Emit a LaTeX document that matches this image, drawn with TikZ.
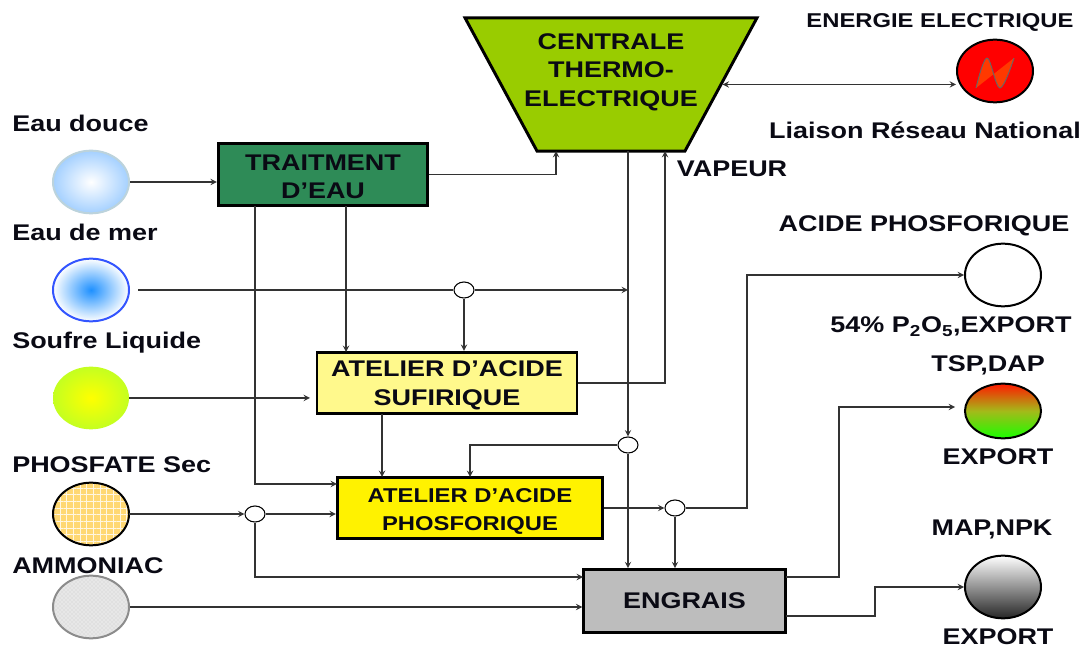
\documentclass[tikz,border=0pt]{standalone}
\usepackage{fontspec}
\setmainfont[FakeStretch=1.19]{Liberation Sans}
\usepackage{tikz}
\usetikzlibrary{shapes.geometric,patterns,patterns.meta}
\definecolor{trtgreen}{HTML}{2E8B57}
\definecolor{cntgreen}{HTML}{99CC00}
\definecolor{txtdark}{HTML}{0A0A14}
\definecolor{wirecol}{HTML}{333333}
\definecolor{douceblue}{HTML}{A4D0FF}
\definecolor{merblue}{HTML}{1E90FF}
\definecolor{merline}{HTML}{3355FF}
\definecolor{soufcol}{HTML}{C4FF20}
\definecolor{phoscol}{HTML}{FFD873}
\newcommand{\topgap}{\rule{0pt}{15pt}}

\begin{document}
\begin{tikzpicture}[x=0.75pt, y=-0.75pt, >=stealth,
    wire/.style={draw=wirecol, line width=1.1pt},
    lbl/.style={font=\bfseries\fontsize{17}{20}\selectfont, text=txtdark, inner sep=0pt,
        text height=12pt, text depth=3pt},
    unit/.style={draw=black, line width=2.2pt, inner sep=0pt, align=center, text=txtdark,
        font=\bfseries\fontsize{17}{21.5}\selectfont},
    ball/.style={ellipse, inner sep=0pt, minimum width=57pt, minimum height=47pt},
    tiny/.style={ellipse, draw=black, fill=white, line width=0.8pt, inner sep=0pt,
        minimum width=15pt, minimum height=12pt}]

    \useasboundingbox (0,0) rectangle (1083,648);

    % process units
    \node[unit, trapezium, shape border rotate=180, trapezium stretches body=true,
        trapezium left angle=61.6, trapezium right angle=61.6, fill=cntgreen,
        minimum width=219pt] (centrale) at (611,84.5) {\rule{0pt}{100pt}};
    \node[align=center, inner sep=0pt, text=txtdark,
        font=\bfseries\fontsize{17}{21.5}\selectfont] (centtxt) at (611,72)
        {CENTRALE\\THERMO-\\ELECTRIQUE};
    \node[unit, fill=trtgreen, minimum width=157pt, minimum height=47pt] (traitement) at (323,174.5)
        {\topgap TRAITMENT\\D'EAU};
    \node[unit, fill=yellow!45, minimum width=195pt, minimum height=46pt] (sulf) at (447,383)
        {\topgap ATELIER D'ACIDE\\SUFIRIQUE};
    \node[unit, fill=yellow, minimum width=199pt, minimum height=46pt,
        font=\bfseries\fontsize{15}{21}\selectfont] (phos) at (470,508)
        {\topgap ATELIER D'ACIDE\\PHOSFORIQUE};
    \node[unit, fill=black!26, minimum width=151pt, minimum height=47pt] (engrais) at (684.5,601)
        {ENGRAIS};

    % inputs
    \node[ball, draw=cyan!35!gray!45, line width=1.5pt, inner color=white, outer color=douceblue] (douce) at (91,182) {};
    \node[ball, draw=merline, line width=1.5pt, inner color=merblue, outer color=white] (mer) at (91,290) {};
    \node[ball, inner color=yellow, outer color=soufcol] (soufre) at (91,398) {};
    \node[ball, draw=black, line width=1.5pt, preaction={fill=phoscol},
        pattern={Hatch[angle=0,distance=5pt,line width=0.6pt]}, pattern color=white!80!phoscol] (phosfate) at (91,514) {};
    \node[ball, draw=black!45, line width=1.5pt, preaction={fill=black!12}, pattern=crosshatch dots, pattern color=white] (ammoniac) at (91,607) {};

    % outputs
    \node[ball, draw=black, line width=1.5pt, fill=red] (elec) at (995,71) {};
    \draw[black!60, fill=orange!45!red, line width=0.7pt] plot[smooth, tension=0.6] coordinates {(976,88) (987,58) (1000,88) (1014,58)};
    \node[ball, draw=black, line width=1.5pt, minimum height=41pt, top color=red!80!orange, bottom color=green!90!yellow, middle color=orange!60!green!90] (tsp) at (1003,411) {};
    \node[ball, draw=black, line width=1.5pt, fill=white] (acide) at (1003,275) {};
    \node[ball, draw=black, line width=1.5pt, top color=white, bottom color=black!85] (map) at (1003,587) {};

    % junctions
    \node[tiny] (j1) at (464,290) {};
    \node[tiny] (j2) at (628,445) {};
    \node[tiny] (j3) at (675,508) {};
    \node[tiny] (j4) at (255,514) {};

    % free ends
    \coordinate (merend) at (628,290);
    \coordinate (soufend) at (310,398);
    \coordinate (tspend) at (955,407);

    % connectors
    \draw[wire, ->] (douce.east) -- (traitement.west |- douce.east);
    \draw[wire, ->] (traitement.east) -| (556,151);
    \draw[wire, ->] (346,206) -- (346,352);
    \draw[wire, ->] (255,206) |- (337,484);
    \draw[wire] (138,290) -- (j1.west);
    \draw[wire, ->] (j1.east) -- (merend);
    \draw[wire, ->] (j1.south) -- (j1.south |- sulf.north);
    \draw[wire, ->] (soufre.east) -- (soufend);
    \draw[wire, ->] (382,414) -- (382,477);
    \draw[wire, ->] (sulf.east) -| (665,151);
    \draw[wire, ->] (628,151) -- (j2.north);
    \draw[wire, ->] (j2.south) -- (j2.south |- engrais.north);
    \draw[wire, ->] (j2.west) -| (470,477);
    \draw[wire, ->] (phos.east) -- (j3.west);
    \draw[wire, ->] (j3.east) -| (747,275) -- (acide.west);
    \draw[wire, ->] (j3.south) -- (j3.south |- engrais.north);
    \draw[wire, ->] (phosfate.east) -- (j4.west);
    \draw[wire, ->] (j4.east) -- (phos.west |- j4.east);
    \draw[wire, ->] (j4.south) |- (583,577);
    \draw[wire, ->] (ammoniac.east) -- (engrais.west |- ammoniac.east);
    \draw[wire, ->] (786,577) -| (839,407) -- (tspend);
    \draw[wire, ->] (786,616) -| (875,587) -- (map.west);
    \draw[wire, <->] (centrale.east) -- (centrale.east -| elec.west);

    % labels
    \node[lbl, anchor=west] (t1) at (12,126) {Eau douce};
    \node[lbl, anchor=west] (t2) at (12,235) {Eau de mer};
    \node[lbl, anchor=west] (t3) at (12,343) {Soufre Liquide};
    \node[lbl, anchor=west] (t4) at (12,467) {PHOSFATE Sec};
    \node[lbl, anchor=west] (t5) at (12,568) {AMMONIAC};
    \node[lbl, font=\bfseries\fontsize{15}{18}\selectfont] (t6) at (940,22) {ENERGIE ELECTRIQUE};
    \node[lbl] (t7) at (925,133) {Liaison Réseau National};
    \node[lbl] (t8) at (732,171) {VAPEUR};
    \node[lbl] (t9) at (924,226) {ACIDE PHOSFORIQUE};
    \node[lbl] (t10) at (951,327) {54\% P\textsubscript{2}O\textsubscript{5},EXPORT};
    \node[lbl] (t11) at (988,366) {TSP,DAP};
    \node[lbl] (t12) at (998,459) {EXPORT};
    \node[lbl] (t13) at (992,530) {MAP,NPK};
    \node[lbl] (t14) at (998,639) {EXPORT};

\end{tikzpicture}
\end{document}
